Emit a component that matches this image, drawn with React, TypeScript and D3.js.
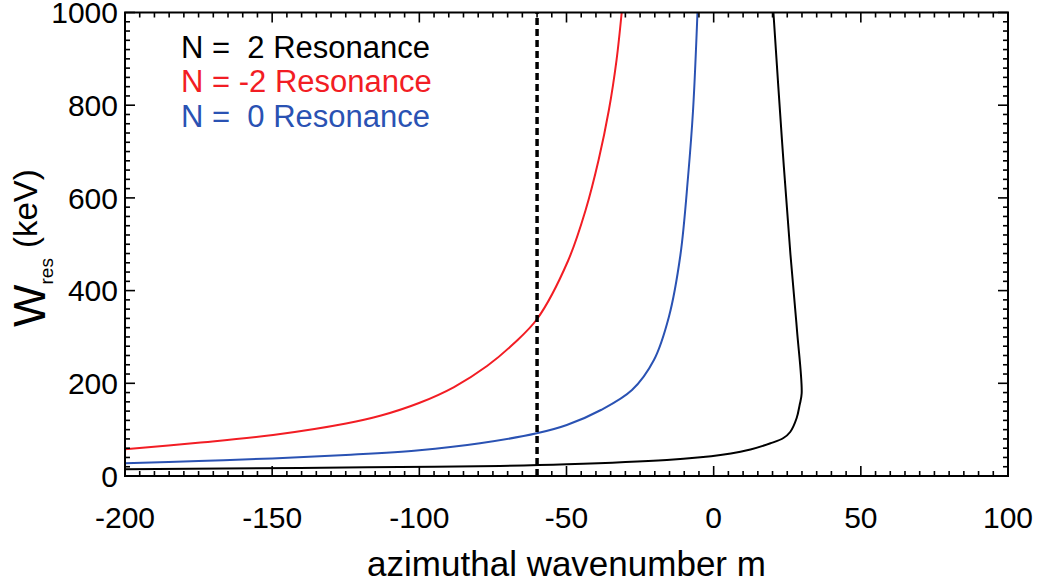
import React from "react";
import * as d3 from "d3";

// ---- data ----
const xTickLabels = [-200, -150, -100, -50, 0, 50, 100];
const yTickLabels = [0, 200, 400, 600, 800, 1000];

// N = 2 resonance (black)
const mN2 = [-200, -140.5, -106.6, -72.6, -49.9, -15.9, -4.5, 2.3, 9.1, 12.5, 19.3, 23.7, 26.0, 28.2, 29.2, 29.9, 28.3, 26.1, 23.2, 20.3];
const wN2 = [14.5, 17.3, 19.4, 21.6, 25.2, 34.5, 40.3, 45.3, 52.4, 57.2, 70.6, 82.0, 94.9, 125.1, 153, 178.4, 315, 476.8, 725, 1000];

// N = -2 resonance (red)
const mNm2 = [-200, -175.2, -149.7, -124.9, -113.0, -100.1, -88.2, -77.0, -68.1, -60.0, -49.5, -43.5, -39.1, -35.6, -33.0, -31.25];
const wNm2 = [57.6, 71.6, 88.5, 113.3, 130.5, 157.5, 192.0, 237.3, 284.8, 338.7, 463.9, 573.9, 681.8, 789.6, 897.5, 1000];

// N = 0 resonance (blue)
const mN0 = [-200, -175, -150, -125, -100, -79.4, -60.1, -49.9, -38.3, -27.75, -20.3, -15.2, -11.3, -8.7, -7.0, -5.5];
const wN0 = [27.4, 32.4, 37.8, 45.3, 55.4, 70.6, 92.1, 110.0, 142.4, 185.5, 250.3, 343.7, 476.8, 645.7, 789.6, 1000];

const dashedM = -60;

const legendLabels = ["N =  2 Resonance", "N = -2 Resonance", "N =  0 Resonance"];
const colors = ["#000000", "#f21d24", "#2a52b3"];

export default function App() {
  const width = 1040;
  const height = 583;
  const left = 125, right = 1008, top = 12.5, bottom = 476;
  const x = d3.scaleLinear().domain([-200, 100]).range([left, right]);
  const y = d3.scaleLinear().domain([0, 1000]).range([bottom, top]);

  const line = d3.line<[number, number]>().x(d => x(d[0])).y(d => y(d[1])).curve(d3.curveCatmullRom.alpha(0.5));

  const black = line(mN2.map((m, i) => [m, wN2[i]] as [number, number]));
  const red = line(mNm2.map((m, i) => [m, wNm2[i]] as [number, number]));
  const blue = line(mN0.map((m, i) => [m, wN0[i]] as [number, number]));

  const xMinor = d3.range(-200, 100.1, 5);
  const yMinor = d3.range(0, 1000.1, 20);
  const font = "'Liberation Sans', Arial, Helvetica, sans-serif";

  return (
    <svg width={width} height={height} style={{ position: "absolute", left: 0, top: 0, background: "#fff" }} fontFamily={font}>
      <defs>
        <clipPath id="plotclip">
          <rect x={left} y={top} width={right - left} height={bottom - top} />
        </clipPath>
      </defs>
      {/* curves */}
      <g clipPath="url(#plotclip)" fill="none" strokeWidth={2}>
        <path d={black || ""} stroke={colors[0]} />
        <path d={red || ""} stroke={colors[1]} />
        <path d={blue || ""} stroke={colors[2]} />
        <line x1={x(dashedM)} x2={x(dashedM)} y1={y(0)} y2={y(1000)} stroke="#000" strokeWidth={3.5} strokeDasharray="7,4" />
      </g>
      {/* frame */}
      <rect x={left} y={top} width={right - left} height={bottom - top} fill="none" stroke="#000" strokeWidth={2} />
      {/* ticks on all four sides, inward */}
      <g stroke="#000" strokeWidth={1.6}>
        {xMinor.map(v => {
          const major = Math.abs(v % 50) < 1e-6;
          const len = major ? 10 : 5;
          return (
            <g key={"x" + v}>
              <line x1={x(v)} x2={x(v)} y1={bottom} y2={bottom - len} />
              <line x1={x(v)} x2={x(v)} y1={top} y2={top + len} />
            </g>
          );
        })}
        {yMinor.map(v => {
          const major = Math.abs(v % 200) < 1e-6;
          const len = major ? 10 : 5;
          return (
            <g key={"y" + v}>
              <line x1={left} x2={left + len} y1={y(v)} y2={y(v)} />
              <line x1={right} x2={right - len} y1={y(v)} y2={y(v)} />
            </g>
          );
        })}
      </g>
      {/* tick labels */}
      <g fontSize={30} fill="#000">
        {xTickLabels.map(v => (
          <text key={"xl" + v} x={x(v)} y={528} textAnchor="middle">{v}</text>
        ))}
        {yTickLabels.map(v => (
          <text key={"yl" + v} x={118} y={y(v) + 10.75} textAnchor="end">{v}</text>
        ))}
      </g>
      {/* x title */}
      <text x={(left + right) / 2} y={576} textAnchor="middle" fontSize={35} fill="#000">azimuthal wavenumber m</text>
      {/* y title */}
      <text transform="translate(45,327) rotate(-90)" fill="#000">
        <tspan fontSize={45}>W</tspan>
        <tspan fontSize={19} dy={8}>res</tspan>
        <tspan fontSize={33} dy={-16} dx={10}>(keV)</tspan>
      </text>
      {/* legend */}
      <g fontSize={31}>
        {legendLabels.map((t, i) => (
          <text key={t} x={181} y={57.7 + i * 34.5} fill={colors[i]} style={{ whiteSpace: "pre" }} xmlSpace="preserve">{t}</text>
        ))}
      </g>
    </svg>
  );
}
